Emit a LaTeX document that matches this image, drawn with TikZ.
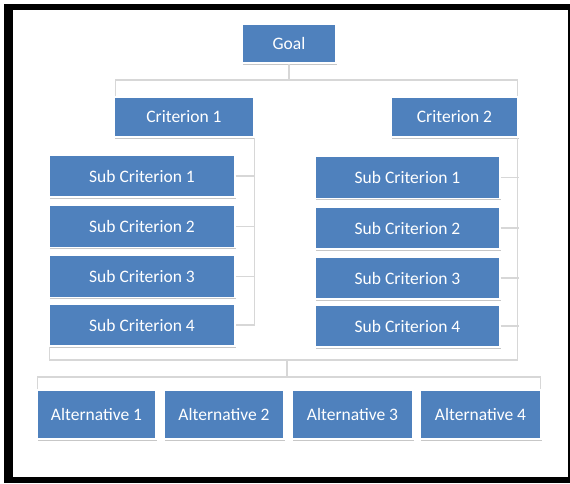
\documentclass[tikz,border=0pt]{standalone}
\usepackage{fontspec}
\usepackage{tikz}
\usetikzlibrary{shadows}
\newfontfamily\boxfont{Carlito}
\definecolor{boxblue}{RGB}{79,129,189}
\definecolor{linkgray}{RGB}{215,215,215}

\begin{document}
\begin{tikzpicture}[x=1pt, y=-1pt,
        box/.style={rectangle, fill=boxblue, draw=white, line width=1.2pt,
            text=white, font=\boxfont\fontsize{17.5}{20}\selectfont,
            inner sep=0pt, minimum height=#1,
            drop shadow={shadow xshift=1pt, shadow yshift=-1.5pt, fill=black!22, opacity=1}},
        box/.default=40pt,
        link/.style={linkgray, line width=1.5pt}]
        \useasboundingbox (0,0) rectangle (570,483);

        % Draw the frame
        \fill[black] (4,4) rectangle (570,483);
        \fill[white] (13,10) rectangle (568,477);

        % Goal and criteria
        \node[box, minimum width=94pt, minimum height=39pt] (goal) at (289,43.5) {Goal};
        \node[box, minimum width=140pt] (c1) at (184,117) {Criterion 1};
        \node[box, minimum width=127pt] (c2) at (454.5,117) {Criterion 2};

        % Sub criteria of the first criterion
        \node[box=42pt, minimum width=186pt] (ls1) at (142,176) {Sub Criterion 1};
        \node[box=42pt, minimum width=186pt] (ls2) at (142,226.5) {Sub Criterion 2};
        \node[box=42pt, minimum width=186pt] (ls3) at (142,276.5) {Sub Criterion 3};
        \node[box=42pt, minimum width=186pt] (ls4) at (142,325) {Sub Criterion 4};

        % Sub criteria of the second criterion
        \node[box=42pt, minimum width=185pt] (rs1) at (407.5,177.5) {Sub Criterion 1};
        \node[box=42pt, minimum width=185pt] (rs2) at (407.5,228) {Sub Criterion 2};
        \node[box=42pt, minimum width=185pt] (rs3) at (407.5,278) {Sub Criterion 3};
        \node[box=42pt, minimum width=185pt] (rs4) at (407.5,326) {Sub Criterion 4};

        % Alternatives
        \node[box=49pt, minimum width=119pt] (a1) at (96.5,414.5) {Alternative 1};
        \node[box=49pt, minimum width=120pt] (a2) at (224,414.5) {Alternative 2};
        \node[box=49pt, minimum width=121pt] (a3) at (352.5,414.5) {Alternative 3};
        \node[box=49pt, minimum width=121pt] (a4) at (480.5,414.5) {Alternative 4};

        % Connect goal to criteria
        \coordinate (gbar) at (289,80);
        \draw[link] (goal.south) -- (gbar);
        \draw[link] ([xshift=2pt]c1.north west) |- (gbar) -| ([xshift=-1pt]c2.north east);

        % Connect criteria to sub criteria
        \draw[link] (c1.south east) -- (c1.south east |- ls4.east) -- (ls4.east);
        \foreach \s in {ls1,ls2,ls3}
            \draw[link] (\s.east) -- (\s.east -| c1.south east);
        \draw[link] ([xshift=-1pt]c2.south east) -- ++(0,223);
        \foreach \s in {rs1,rs2,rs3,rs4}
            \draw[link] (\s.east) -- (\s.east -| c2.south east);

        % Connect sub criteria to alternatives
        \coordinate (sbar) at (287,360);
        \coordinate (abar) at (287,377);
        \draw[link] ([xshift=1pt]ls4.south west) |- (sbar) -| ([xshift=-1pt]c2.south east |- sbar);
        \draw[link] (sbar) -- (abar);
        \draw[link] ([xshift=1pt]a1.north west) |- (abar) -| ([xshift=-1pt]a4.north east);
\end{tikzpicture}
\end{document}
